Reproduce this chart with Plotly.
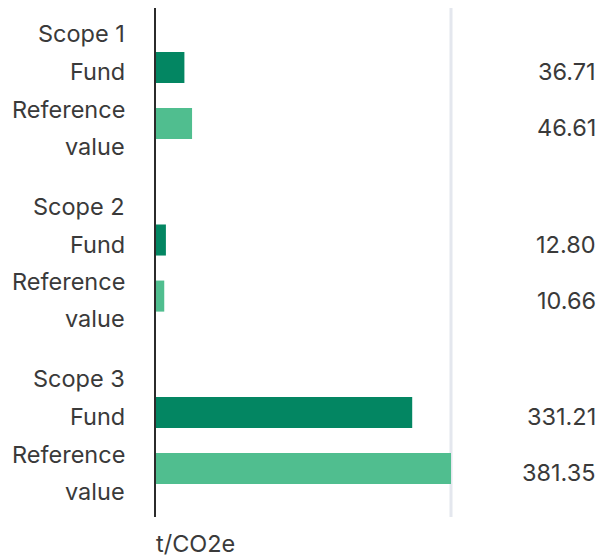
import plotly.graph_objects as go

scopes = ["Scope 1", "Scope 2", "Scope 3"]
series_names = ["Fund", "Reference value"]
fund_values = [36.71, 12.80, 331.21]
reference_values = [46.61, 10.66, 381.35]
value_labels_fund = ["36.71", "12.80", "331.21"]
value_labels_ref = ["46.61", "10.66", "381.35"]
x_title = "t/CO2e"

DARK = "#038662"
LIGHT = "#50BE8F"
TEXT = "#3a3a3a"
FONT = "Inter, Noto Sans, sans-serif"

fund_pos = [g * 3 + 1 for g in range(len(scopes))]
ref_pos = [g * 3 + 1.975 for g in range(len(scopes))]

fig = go.Figure()
fig.add_trace(go.Bar(y=fund_pos, x=fund_values, orientation="h", width=0.54,
                     marker=dict(color=DARK, line=dict(width=0)), name=series_names[0],
                     hoverinfo="x"))
fig.add_trace(go.Bar(y=ref_pos, x=reference_values, orientation="h", width=0.54,
                     marker=dict(color=LIGHT, line=dict(width=0)), name=series_names[1],
                     hoverinfo="x"))

annotations = []
fs = 23.5
font = dict(size=fs, color=TEXT, family=FONT)
for i, s in enumerate(scopes):
    annotations.append(dict(x=0, xref="paper", xanchor="right", xshift=-29,
                            y=fund_pos[i], yref="y", yanchor="middle", yshift=34,
                            text=s, showarrow=False, font=font))
    annotations.append(dict(x=0, xref="paper", xanchor="right", xshift=-29,
                            y=fund_pos[i], yref="y", yanchor="middle", yshift=-4,
                            text=series_names[0], showarrow=False, font=font))
    annotations.append(dict(x=0, xref="paper", xanchor="right", xshift=-29,
                            y=ref_pos[i], yref="y", yanchor="middle", yshift=14.5,
                            text="Reference", showarrow=False, font=font))
    annotations.append(dict(x=0, xref="paper", xanchor="right", xshift=-29,
                            y=ref_pos[i], yref="y", yanchor="middle", yshift=-22.5,
                            text="value", showarrow=False, font=font))
    annotations.append(dict(x=1, xref="paper", xanchor="right", xshift=147,
                            y=fund_pos[i], yref="y", yanchor="middle", yshift=-4,
                            text=value_labels_fund[i], showarrow=False, font=font))
    annotations.append(dict(x=1, xref="paper", xanchor="right", xshift=147,
                            y=ref_pos[i], yref="y", yanchor="middle", yshift=-4,
                            text=value_labels_ref[i], showarrow=False, font=font))

annotations.append(dict(x=0, xref="paper", xanchor="left", xshift=-2,
                        y=0, yref="paper", yanchor="middle", yshift=-26,
                        text=x_title, showarrow=False, font=font))

fig.update_layout(
    width=597, height=549,
    margin=dict(l=148, r=154, t=0, b=40, pad=0),
    plot_bgcolor="white", paper_bgcolor="white",
    showlegend=False,
    barmode="overlay",
    annotations=annotations,
    shapes=[dict(type="line", xref="paper", yref="paper", x0=1, x1=1, y0=0, y1=1,
                 line=dict(color="#e4e7ee", width=3), layer="below")],
    xaxis=dict(range=[0, max(reference_values)], showgrid=False, zeroline=False,
               showticklabels=False, ticks="", showline=False, fixedrange=True),
    yaxis=dict(range=[8.817, -0.035], showgrid=False, zeroline=False,
               showticklabels=False, ticks="", showline=True, linecolor="#2b2b2b",
               linewidth=2, fixedrange=True),
)

fig.write_html("out.html")
